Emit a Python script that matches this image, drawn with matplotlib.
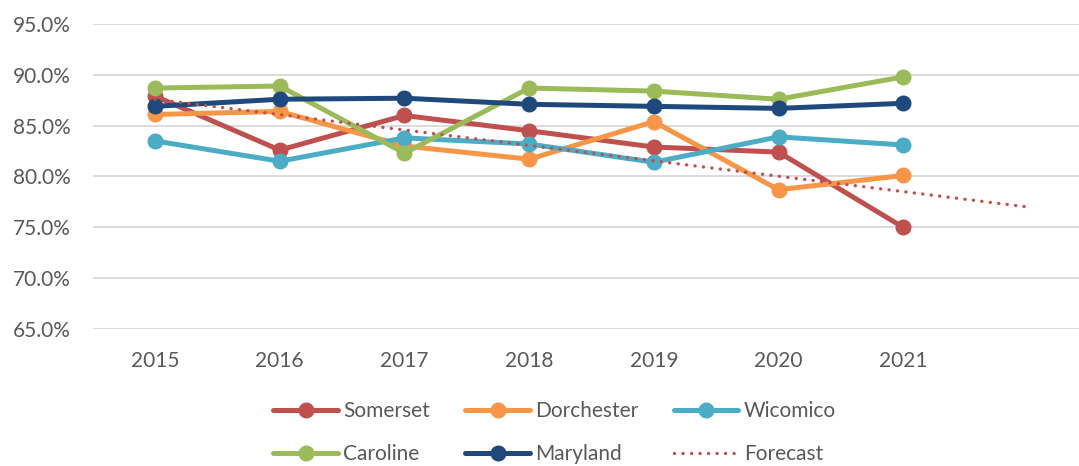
import matplotlib.pyplot as plt
from matplotlib.ticker import PercentFormatter

years = ["2015", "2016", "2017", "2018", "2019", "2020", "2021", ""]

somerset = [0.879, 0.826, 0.860, 0.845, 0.829, 0.824, 0.750]
dorchester = [0.861, 0.864, 0.830, 0.817, 0.854, 0.787, 0.801]
wicomico = [0.835, 0.815, 0.838, 0.832, 0.814, 0.839, 0.831]
caroline = [0.887, 0.889, 0.823, 0.887, 0.884, 0.876, 0.898]
maryland = [0.869, 0.876, 0.877, 0.871, 0.869, 0.867, 0.872]

# trend line, read at its two ends (2015 and the blank slot after 2021)
forecast_x = [0, 7]
forecast = [0.876, 0.770]

plt.rcParams["font.family"] = ["Lato", "DejaVu Sans"]

fig = plt.figure(figsize=(10.79, 4.66), dpi=100)
ax = fig.add_axes([92.7 / 1079, 1 - 329 / 466, 1 - 92.7 / 1079, (329 - 24) / 466])

x = list(range(7))
style = dict(lw=3.6, marker="o", ms=10.5, solid_capstyle="round")
h1, = ax.plot(x, somerset, color="#C0504D", label="Somerset", **style)
h2, = ax.plot(x, dorchester, color="#F79646", label="Dorchester", **style)
h3, = ax.plot(x, wicomico, color="#4BACC6", label="Wicomico", **style)
h4, = ax.plot(x, caroline, color="#9BBB59", label="Caroline", **style)
h5, = ax.plot(x, maryland, color="#1F497D", label="Maryland", **style)
h6, = ax.plot(forecast_x, forecast, color="#C0504D", lw=2.4, ls=(0, (0.05, 2.5)),
              dash_capstyle="round", label="Forecast")

ax.set_ylim(0.65, 0.95)
ax.set_yticks([0.65, 0.70, 0.75, 0.80, 0.85, 0.90, 0.95])
ax.yaxis.set_major_formatter(PercentFormatter(1.0, decimals=1))
ax.set_xlim(-0.5, (1079 - 155) / 124.7)
ax.set_xticks(range(len(years)))
ax.set_xticklabels(years)

ax.grid(axis="y", color="#d9d9d9", lw=1.3)
ax.set_axisbelow(True)
for s in ax.spines.values():
    s.set_visible(False)
ax.tick_params(axis="both", length=0, labelsize=15, colors="#595959")
ax.tick_params(axis="y", pad=16)
ax.tick_params(axis="x", pad=16)

# excel fills the legend row by row
handles = [h1, h4, h2, h5, h3, h6]
fig.legend(handles, [h.get_label() for h in handles], ncol=3, loc="upper center",
           bbox_to_anchor=(0.514, 1 - 401 / 466), frameon=False, fontsize=15,
           labelcolor="#595959", handlelength=3.1, handletextpad=0.25,
           columnspacing=1.7, labelspacing=1.1, borderaxespad=0, borderpad=0)

fig.savefig("out.png", dpi=100)
